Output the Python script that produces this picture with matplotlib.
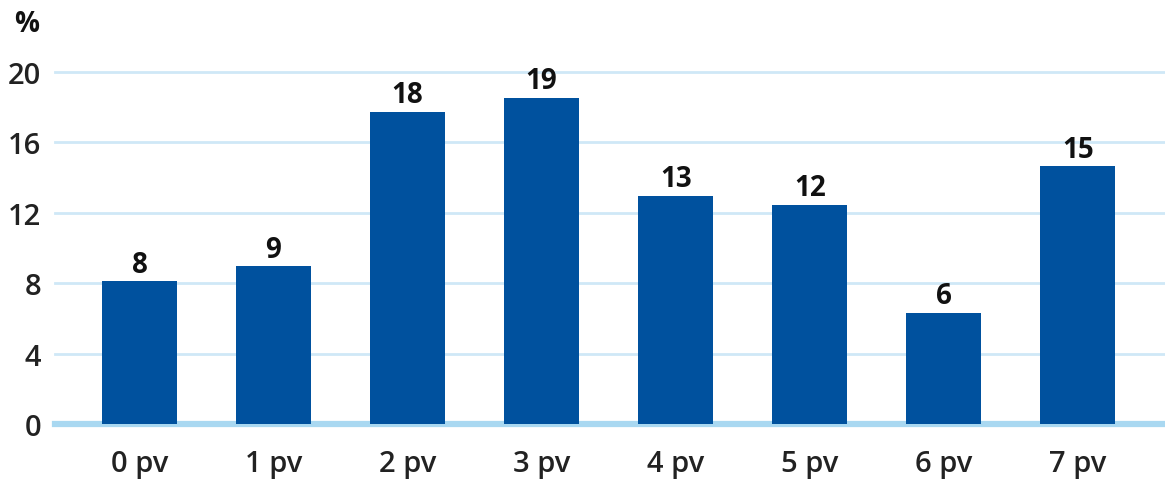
import matplotlib
matplotlib.use("Agg")
import matplotlib.pyplot as plt

plt.rcParams['font.family'] = ['Open Sans', 'DejaVu Sans']

categories = ["0 pv", "1 pv", "2 pv", "3 pv", "4 pv", "5 pv", "6 pv", "7 pv"]
values = [8.1, 8.95, 17.75, 18.55, 12.95, 12.45, 6.3, 14.65]
labels = ["8", "9", "18", "19", "13", "12", "6", "15"]
yticks = [0, 4, 8, 12, 16, 20]

fig = plt.figure(figsize=(11.65, 4.81), dpi=100)
ax = fig.add_axes([55 / 1165, 56 / 481, 1 - 55 / 1165, (425 - 73) / 481])

x = range(len(categories))
bars = ax.bar(x, values, width=0.56, color="#00519e", zorder=3)
for b, lab in zip(bars, labels):
    ax.text(b.get_x() + b.get_width() / 2, b.get_height() + 0.15, lab,
            ha="center", va="bottom", fontsize=20, fontweight="bold", color="#111111")

ax.set_xlim(-0.63, 7.65)
ax.set_ylim(0, 20)
ax.set_yticks(yticks)
ax.set_xticks(list(x))
ax.set_xticklabels(categories)
for t in yticks[1:]:
    ax.axhline(t, color="#cfe8f7", lw=2, zorder=1, clip_on=False)
ax.axhline(0, color="#a9d8f1", lw=4.5, zorder=2, clip_on=False)

for s in ax.spines.values():
    s.set_visible(False)
ax.tick_params(axis="both", length=0, labelsize=21, colors="#222222")
ax.tick_params(axis="y", pad=10)
ax.tick_params(axis="x", pad=18)
for t in ax.get_xticklabels() + ax.get_yticklabels():
    t.set_fontweight("semibold")

fig.text(14 / 1165, 1 - 24 / 481, "%", fontsize=20, fontweight="bold",
         color="#111111", va="center", ha="left")

fig.savefig("out.png", dpi=100)
